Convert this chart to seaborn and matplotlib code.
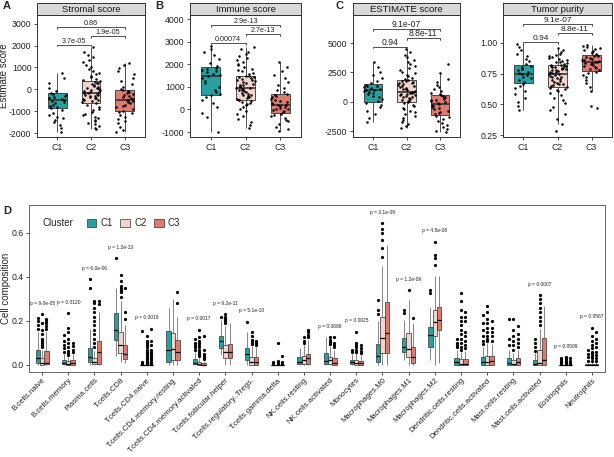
import numpy as np
import pandas as pd
import matplotlib
matplotlib.use('Agg')
import matplotlib.pyplot as plt
import seaborn as sns

sns.set_theme(style='ticks')
plt.rcParams['font.family'] = ['Liberation Sans', 'DejaVu Sans']
plt.rcParams['axes.unicode_minus'] = False

clusters = ['C1', 'C2', 'C3']
pal = {'C1': '#12B5B5', 'C2': '#F7D1C5', 'C3': '#F06B5E'}

# ---- top panels: box stats [lo, q1, median, q3, hi] and jittered points ----
stromal_stats = [[-1940, -860, -500, -170, 750],
                 [-1830, -620, -170, 380, 1950],
                 [-1940, -1000, -470, -50, 1220]]
stromal_c1 = [-1940, -1780, -1620, -1510, -1420, -1330, -1250, -1160, -1080, -960, -870, -820, -760, -700, -640,
              -590, -540, -500, -460, -410, -370, -320, -270, -210, -150, -60, 80, 290, 520, 750]
stromal_c2 = [-1830, -1760, -1690, -1600, -1520, -1470, -1390, -1320, -1260, -1180, -1110, -1040, -960, -890, -800, -700,
              -610, -580, -550, -505, -470, -445, -410, -380, -355, -320, -290, -260, -240, -215, -190, -170,
              -140, -115, -80, -50, -20, 10, 45, 80, 120, 160, 200, 235, 270, 310, 345, 380,
              430, 490, 560, 610, 690, 760, 850, 940, 1030, 1130, 1240, 1350, 1480, 1590, 1720, 1950]
stromal_c3 = [-1940, -1880, -1700, -1560, -1430, -1350, -1260, -1170, -1090, -1020, -980, -900, -830, -760, -700,
              -640, -590, -540, -500, -470, -430, -390, -350, -300, -260, -220, -170, -130, -90, -50,
              20, 110, 230, 380, 520, 690, 850, 980, 1100, 1220]
stromal_p = ['3.7e-05', '1.9e-05', '0.86']

immune_stats = [[-1000, 650, 1470, 1870, 2830],
                [-810, 430, 960, 1500, 2760],
                [-960, -160, 210, 700, 2090]]
immune_c1 = [-1000, -350, -150, 120, 300, 420, 540, 620, 700, 790, 880, 1010, 1150, 1280, 1390, 1470, 1530, 1590,
             1640, 1690, 1740, 1790, 1850, 1920, 2050, 2220, 2390, 2540, 2680, 2830]
immune_c2 = [-810, -690, -560, -420, -300, -180, -70, 30, 110, 180, 240, 290, 330, 370, 400, 425,
             450, 490, 530, 580, 620, 660, 700, 740, 780, 810, 840, 870, 900, 920, 940, 960,
             990, 1020, 1060, 1100, 1140, 1180, 1210, 1250, 1290, 1320, 1360, 1390, 1420, 1450, 1480, 1500,
             1550, 1610, 1680, 1740, 1800, 1870, 1950, 2020, 2090, 2170, 2260, 2350, 2450, 2560, 2660, 2760]
immune_c3 = [-960, -880, -760, -640, -530, -450, -380, -300, -240, -180, -130, -80, -40, 0, 40, 80, 120, 150, 180, 210,
             250, 290, 340, 390, 430, 480, 540, 590, 650, 700, 780, 870, 960, 1080, 1220, 1380, 1530, 1700, 1880, 2090]
immune_p = ['0.00074', '2.7e-13', '2.9e-13']

estimate_stats = [[-1730, -30, 960, 1510, 3390],
                  [-2250, -30, 830, 1820, 4520],
                  [-2620, -1110, -170, 540, 2450]]
estimate_c1 = [-1730, -1420, -1050, -760, -480, -250, -100, 40, 220, 390, 520, 650, 760, 860, 920, 960, 1010, 1080,
               1150, 1230, 1300, 1380, 1460, 1580, 1760, 1980, 2260, 2570, 2920, 3390]
estimate_c2 = [-2250, -2080, -1890, -1700, -1520, -1360, -1200, -1050, -900, -760, -620, -500, -380, -250, -140, -50,
               30, 100, 170, 240, 300, 360, 420, 480, 540, 590, 640, 690, 740, 780, 810, 830,
               900, 970, 1040, 1110, 1180, 1250, 1310, 1380, 1440, 1500, 1560, 1620, 1680, 1730, 1780, 1820,
               1930, 2050, 2170, 2300, 2430, 2570, 2700, 2850, 3000, 3180, 3360, 3560, 3780, 4000, 4250, 4520]
estimate_c3 = [-2620, -2470, -2290, -2120, -1960, -1800, -1650, -1500, -1340, -1180, -1060, -960, -860, -760, -660,
               -560, -460, -370, -270, -170, -100, -30, 40, 110, 180, 250, 320, 390, 460, 540,
               650, 780, 930, 1090, 1260, 1450, 1660, 1900, 2450, 3200]
estimate_p = ['0.94', '8.8e-11', '9.1e-07']

purity_stats = [[0.454, 0.67, 0.75, 0.817, 0.99],
                [0.339, 0.643, 0.75, 0.817, 0.957],
                [0.607, 0.769, 0.841, 0.903, 0.984]]
purity_c1 = [0.454, 0.49, 0.52, 0.55, 0.58, 0.61, 0.63, 0.65, 0.665, 0.68, 0.695, 0.71, 0.72, 0.735, 0.745, 0.755,
             0.765, 0.775, 0.785, 0.795, 0.805, 0.815, 0.83, 0.85, 0.87, 0.89, 0.91, 0.94, 0.965, 0.99]
purity_c2 = [0.285, 0.339, 0.38, 0.42, 0.45, 0.48, 0.51, 0.535, 0.555, 0.575, 0.59, 0.605, 0.615, 0.625, 0.633, 0.64,
             0.648, 0.655, 0.662, 0.668, 0.675, 0.682, 0.69, 0.697, 0.705, 0.712, 0.718, 0.725, 0.732, 0.738, 0.744, 0.75,
             0.755, 0.76, 0.765, 0.77, 0.775, 0.78, 0.785, 0.79, 0.794, 0.798, 0.802, 0.806, 0.809, 0.812, 0.815, 0.817,
             0.822, 0.828, 0.834, 0.84, 0.847, 0.854, 0.861, 0.868, 0.876, 0.884, 0.892, 0.9, 0.91, 0.922, 0.94, 0.957]
purity_c3 = [0.473, 0.49, 0.607, 0.64, 0.67, 0.7, 0.72, 0.74, 0.755, 0.765, 0.775, 0.785, 0.795, 0.805, 0.812, 0.82,
             0.826, 0.832, 0.837, 0.841, 0.846, 0.852, 0.858, 0.864, 0.87, 0.876, 0.882, 0.889, 0.896, 0.903,
             0.91, 0.918, 0.926, 0.934, 0.942, 0.95, 0.958, 0.966, 0.975, 0.984]
purity_p = ['0.94', '8.8e-11', '9.1e-07']

# ---- panel D: CIBERSORT cell composition ----
cells = ['B.cells.naive', 'B.cells.memory', 'Plasma.cells', 'T.cells.CD8', 'T.cells.CD4.naive',
         'T.cells.CD4.memory.resting', 'T.cells.CD4.memory.activated', 'T.cells.follicular.helper',
         'T.cells.regulatory..Tregs.', 'T.cells.gamma.delta', 'NK.cells.resting', 'NK.cells.activated',
         'Monocytes', 'Macrophages.M0', 'Macrophages.M1', 'Macrophages.M2', 'Dendritic.cells.resting',
         'Dendritic.cells.activated', 'Mast.cells.resting', 'Mast.cells.activated', 'Eosinophils', 'Neutrophils']
cell_p = ['p = 9.0e-05', 'p = 0.0120', 'p = 6.0e-06', 'p = 1.2e-13', 'p = 0.0019', '', 'p = 0.0017',
          'p = 9.2e-11', 'p = 5.1e-10', '', '', 'p = 0.0688', 'p = 0.0025', 'p = 3.1e-09', 'p = 1.2e-09',
          'p = 4.5e-08', '', '', '', 'p = 0.0007', 'p = 0.0509', 'p = 0.0567']

c1_lo = [0, 0, 0, .04, 0, 0, 0, .045, 0, 0, 0, 0, 0, 0, .023, .023, 0, 0, 0, 0, 0, 0]
c1_q1 = [.01, .003, .015, .114, 0, .015, .003, .079, .023, 0, .005, .005, .005, .015, .061, .083, 0, 0, 0, 0, 0, 0]
c1_med = [.03, .01, .035, .159, 0, .068, .01, .109, .05, 0, .015, .02, .012, .041, .083, .136, .012, .015, .008, .006, 0, 0]
c1_q3 = [.068, .023, .076, .238, 0, .155, .027, .132, .076, 0, .035, .055, .023, .094, .121, .174, .03, .035, .03, .023, 0, .004]
c1_hi = [.15, .05, .165, .35, 0, .258, .06, .205, .15, 0, .075, .125, .048, .2, .205, .265, .068, .083, .07, .055, 0, .009]
c1_out = [[.165, .18, .2, .215], [.06, .075, .09, .11, .135], [.35, .39], [.485], [.004, .008, .015, .155], [],
          [.07, .08, .09, .1, .12], [.22], [.196], [.008, .015], [], [], [.06, .07], [.23, .25, .295], [.235, .25],
          [.325, .34], [.08, .09, .1, .12], [.095, .11, .13, .16, .19, .227], [.09, .12, .21], [.065, .08, .1, .12],
          [.004, .008, .012, .018, .025, .033], [.02, .035, .05, .068]]

c2_lo = [0, 0, 0, .015, 0, 0, 0, 0, 0, 0, 0, 0, 0, 0, 0, 0, 0, 0, 0, 0, 0, 0]
c2_q1 = [.002, .001, .005, .053, 0, .023, 0, .03, .001, 0, .005, .005, .002, .053, .035, .132, 0, 0, 0, 0, 0, 0]
c2_med = [.008, .005, .012, .09, 0, .073, .004, .061, .014, 0, .023, .023, .008, .124, .071, .197, .005, .012, .004, .01, 0, .001]
c2_q3 = [.03, .016, .03, .15, 0, .144, .014, .091, .035, 0, .041, .038, .023, .22, .144, .25, .025, .041, .023, .068, 0, .006]
c2_hi = [.07, .037, .065, .29, 0, .30, .033, .175, .085, 0, .09, .085, .054, .45, .295, .405, .06, .10, .055, .165, 0, .014]
c2_out = [[.08, .09, .1, .11, .12, .14, .16, .19, .23], [.045, .055, .065, .08, .1, .12, .15, .17, .235],
          [.08, .1, .12, .14, .16, .18, .2, .22, .24, .26, .28, .29], [.31, .33, .34, .35, .36, .38, .41],
          [.004, .008, .012, .018, .025, .032, .04, .05, .06, .07, .08, .09, .1, .11, .13], [],
          [.04, .05, .06, .07, .08, .09, .1, .11, .125, .16], [.19, .2, .21, .22, .23], [.095, .105, .115, .13, .15],
          [.005, .012, .02, .098], [.1, .11, .126], [.095, .105, .115, .126], [.06, .07, .08, .09, .1, .152],
          [.49, .53, .57, .6, .62, .645], [.34], [.455, .486, .5, .56],
          [.07, .08, .1, .12, .14, .16, .18, .2, .22, .25, .29, .326], [.11, .12, .13, .15, .17, .19, .21, .24, .27],
          [.07, .09, .11, .13, .16, .21], [.18, .2, .22, .24, .26, .28, .3, .318], [.004, .008, .012, .02, .028, .035],
          [.02, .03, .04, .05, .06, .075, .09, .11, .13, .17]]

c3_lo = [0, 0, 0, .01, 0, 0, 0, 0, 0, 0, 0, 0, 0, 0, 0, .01, 0, 0, 0, 0, 0, 0]
c3_q1 = [.003, .002, .005, .025, 0, .023, 0, .03, .002, 0, .005, .002, .002, .053, .008, .159, 0, .002, 0, 0, 0, 0]
c3_med = [.011, .008, .058, .05, 0, .058, .002, .06, .015, 0, .03, .01, .007, .144, .035, .205, .006, .02, .012, .023, 0, .001]
c3_q3 = [.064, .022, .11, .09, 0, .114, .008, .095, .035, 0, .05, .03, .02, .288, .083, .265, .027, .041, .03, .121, 0, .005]
c3_hi = [.15, .05, .24, .18, 0, .22, .019, .19, .08, 0, .115, .07, .045, .545, .19, .405, .065, .095, .07, .27, 0, .012]
c3_out = [[.165, .175, .19, .2, .21], [.06, .07, .085, .1], [.275, .29], [.21, .24, .35],
          [.004, .008, .015, .022, .03, .04, .05, .06, .07, .09, .11, .165], [.283, .333],
          [.025, .03, .04, .05, .07, .13], [], [.09, .1, .11], [.006, .015, .04], [.125, .135, .15, .16],
          [.08, .09, .1, .126], [.055, .065, .075, .09], [], [.212], [], [.075, .09, .11, .13, .15, .2, .22, .24],
          [.11, .13, .15, .17, .2], [.08, .1, .12, .14, .177], [], [.005, .01, .02, .03],
          [.02, .03, .045, .06, .08, .1, .12, .15]]

W, H = 614, 457
fig = plt.figure(figsize=(W / 100, H / 100), dpi=100)


def box(x0, y0, x1, y1):
    return [x0 / W, 1 - y1 / H, (x1 - x0) / W, (y1 - y0) / H]


def style_axes(ax, color='#333333'):
    for s in ax.spines.values():
        s.set_visible(True)
        s.set_color(color)
        s.set_linewidth(0.7)
    ax.tick_params(length=2.5, width=0.6, pad=1.5, colors='#333333', labelcolor='#222222')


def top_panel(x0, x1, title, stats, p1, p2, p3, pvals, ylim, yticks, yticklabels, pfs, ylabel=''):
    ax = fig.add_axes(box(x0, 15, x1, 137))
    sax = fig.add_axes(box(x0, 3, x1, 15))
    box_df = pd.DataFrame({'cluster': np.repeat(clusters, 5), 'value': np.concatenate(stats)})
    pt_df = pd.DataFrame({'cluster': np.repeat(clusters, [len(p1), len(p2), len(p3)]),
                          'value': np.concatenate([p1, p2, p3])})
    sns.boxplot(data=box_df, x='cluster', y='value', hue='cluster', order=clusters, palette=pal,
                whis=(0, 100), showfliers=False, showcaps=False, width=0.55, linewidth=0.6,
                linecolor='#333333', medianprops=dict(linewidth=1.2), legend=False, ax=ax)
    sns.stripplot(data=pt_df, x='cluster', y='value', order=clusters, color='black', size=1.8,
                  jitter=0.27, ax=ax)
    lo, hi = pt_df['value'].min(), pt_df['value'].max()
    rng = hi - lo
    d = 0.022 * rng
    for i, ((a, b), t) in enumerate(zip([(0, 1), (1, 2), (0, 2)], pvals)):
        y = hi + 0.025 * rng + i * 0.105 * rng
        ax.plot([a, a, b, b], [y - d, y, y, y - d], color='#333333', lw=0.6)
        ax.text((a + b) / 2, y, t, ha='center', va='bottom', fontsize=pfs, color='#222222')
    ax.set_ylim(*ylim)
    ax.set_xlim(-0.6, 2.6)
    ax.set_yticks(yticks)
    ax.set_yticklabels(yticklabels)
    ax.set_xlabel('')
    ax.set_ylabel(ylabel, fontsize=7)
    ax.yaxis.set_label_coords((9 - x0) / (x1 - x0), 0.5)
    style_axes(ax)
    ax.tick_params(labelsize=6.3)
    sax.set_facecolor('#D9D9D9')
    sax.set_xticks([])
    sax.set_yticks([])
    style_axes(sax)
    sax.text(0.5, 0.45, title, ha='center', va='center', fontsize=6.8, color='#1A1A1A', transform=sax.transAxes)
    return ax


top_panel(37, 145, 'Stromal score', stromal_stats, stromal_c1, stromal_c2, stromal_c3, stromal_p,
          (-2180, 3400), [-2000, -1000, 0, 1000, 2000, 3000],
          ['-2000', '-1000', '0', '1000', '2000', '3000'], 5.2, 'Estimate score')
top_panel(190, 301, 'Immune score', immune_stats, immune_c1, immune_c2, immune_c3, immune_p,
          (-1220, 4180), [-1000, 0, 1000, 2000, 3000, 4000],
          ['-1000', '0', '1000', '2000', '3000', '4000'], 5.2)
top_panel(353, 460, 'ESTIMATE score', estimate_stats, estimate_c1, estimate_c2, estimate_c3, estimate_p,
          (-3010, 7390), [-2500, 0, 2500, 5000], ['-2500', '0', '2500', '5000'], 6.2)
top_panel(503, 612, 'Tumor purity', purity_stats, purity_c1, purity_c2, purity_c3, purity_p,
          (0.234, 1.226), [0.25, 0.5, 0.75, 1.0], ['0.25', '0.50', '0.75', '1.00'], 6.0)


# panel D long table: each group rebuilt from its five numbers plus outliers
def expand(lo, q1, med, q3, hi, out):
    k = len(out) + 1
    return [lo] + [q1] * k + [med] * (2 * k - 1) + [q3] + [hi] + list(out)


rows = []
for c, lo_, q1_, md_, q3_, hi_, out_ in [('C1', c1_lo, c1_q1, c1_med, c1_q3, c1_hi, c1_out),
                                          ('C2', c2_lo, c2_q1, c2_med, c2_q3, c2_hi, c2_out),
                                          ('C3', c3_lo, c3_q1, c3_med, c3_q3, c3_hi, c3_out)]:
    for i, cell in enumerate(cells):
        for v in expand(lo_[i], q1_[i], md_[i], q3_[i], hi_[i], out_[i]):
            rows.append((cell, c, v))
df_d = pd.DataFrame(rows, columns=['cell', 'Cluster', 'value'])

axd = fig.add_axes(box(29, 205, 605, 372))
sns.boxplot(data=df_d, x='cell', y='value', hue='Cluster', order=cells, hue_order=clusters, palette=pal,
            width=0.5, gap=0, whis=1.5, linewidth=0.5, linecolor='#333333', fliersize=1.3, showcaps=False,
            whiskerprops=dict(color='#555555'), medianprops=dict(color='black', linewidth=0.9),
            flierprops=dict(marker='o', markerfacecolor='black', markeredgecolor='black'), ax=axd)

top_vals = df_d.groupby('cell')['value'].max()
for i, cell in enumerate(cells):
    if cell_p[i]:
        axd.text(i, top_vals[cell] + 0.038, cell_p[i], ha='center', va='bottom', fontsize=3.5, color='#222222')

handles, labels = axd.get_legend_handles_labels()
axd.legend(handles, labels, loc='center left', bbox_to_anchor=(0.085, 0.89), ncol=3, frameon=False,
           fontsize=7, handlelength=1.0, handleheight=0.8, columnspacing=0.8, handletextpad=0.4)
axd.text(0.024, 0.89, 'Cluster', transform=axd.transAxes, va='center', fontsize=7)

axd.set_ylim(-0.032, 0.727)
axd.set_xlim(-0.5, len(cells) - 0.5)
axd.set_yticks([0, 0.2, 0.4, 0.6])
axd.set_yticklabels(['0.0', '0.2', '0.4', '0.6'])
axd.set_xlabel('')
axd.set_ylabel('Cell composition', fontsize=7)
axd.yaxis.set_label_coords((11 - 29) / 576, 0.5)
style_axes(axd, '#666666')
axd.tick_params(axis='y', labelsize=6.3)
axd.tick_params(axis='x', labelsize=5.6, pad=1)
plt.setp(axd.get_xticklabels(), rotation=45, ha='right', rotation_mode='anchor')

for letter, x, y in [('A', 3, 6), ('B', 155, 6), ('C', 335, 6), ('D', 3, 211)]:
    fig.text(x / W, 1 - y / H, letter, fontsize=8, fontweight='bold', va='center', ha='left')

fig.savefig('out.png', dpi=100)
